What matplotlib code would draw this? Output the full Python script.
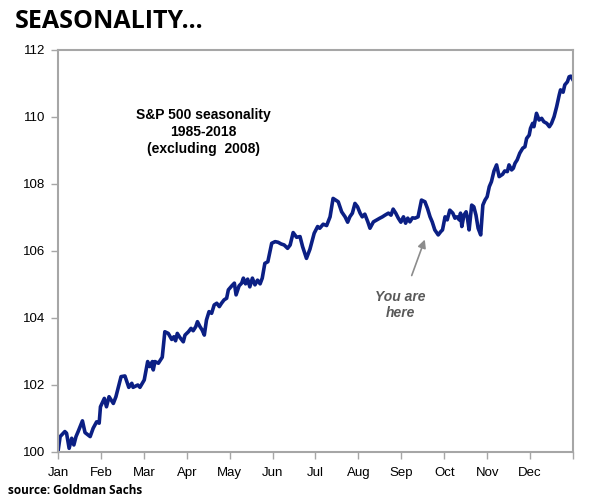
import matplotlib
matplotlib.use("Agg")
from matplotlib import pyplot as plt

# position along the year in months (0 = 1 Jan, 12 = 31 Dec) and index level
months = [0.00, 0.05, 0.16, 0.20, 0.26, 0.32, 0.37, 0.42, 0.47, 0.57, 0.63, 0.75, 0.82, 0.90, 0.96,
          0.99, 1.08, 1.13, 1.19, 1.29, 1.35, 1.47, 1.56, 1.65, 1.72, 1.75, 1.86, 1.91, 2.01, 2.09,
          2.14, 2.20, 2.22, 2.26, 2.34, 2.43, 2.49, 2.57, 2.65, 2.70, 2.74, 2.78, 2.84, 2.92, 2.96,
          3.04, 3.10, 3.15, 3.21, 3.25, 3.31, 3.36, 3.41, 3.46, 3.52, 3.58, 3.64, 3.70, 3.76, 3.81,
          3.87, 3.93, 3.97, 4.05, 4.11, 4.15, 4.22, 4.28, 4.32, 4.37, 4.42, 4.47, 4.53, 4.59, 4.65,
          4.71, 4.76, 4.82, 4.89, 4.98, 5.06, 5.13, 5.20, 5.27, 5.35, 5.41, 5.48, 5.56, 5.64, 5.70,
          5.79, 5.87, 5.97, 6.05, 6.10, 6.18, 6.26, 6.34, 6.41, 6.47, 6.53, 6.61, 6.69, 6.75, 6.80,
          6.86, 6.92, 6.98, 7.04, 7.09, 7.15, 7.22, 7.27, 7.35, 7.43, 7.50, 7.56, 7.62, 7.70, 7.76,
          7.81, 7.87, 7.93, 7.99, 8.05, 8.10, 8.15, 8.20, 8.26, 8.32, 8.39, 8.47, 8.55, 8.61, 8.67,
          8.72, 8.78, 8.86, 8.92, 8.96, 9.02, 9.07, 9.13, 9.20, 9.25, 9.30, 9.35, 9.38, 9.41, 9.46,
          9.51, 9.54, 9.58, 9.64, 9.69, 9.74, 9.79, 9.85, 9.90, 9.95, 10.00, 10.05, 10.10, 10.16, 10.22,
          10.28, 10.36, 10.41, 10.47, 10.51, 10.57, 10.61, 10.65, 10.70, 10.76, 10.83, 10.88, 10.92, 10.98, 11.01,
          11.06, 11.09, 11.15, 11.21, 11.27, 11.32, 11.39, 11.45, 11.50, 11.56, 11.62, 11.68, 11.71, 11.77, 11.81,
          11.87, 11.91, 11.95, 11.99]
level = [100.01, 100.46, 100.61, 100.56, 100.11, 100.41, 100.21, 100.46, 100.61, 100.93, 100.58, 100.46, 100.71, 100.90, 100.86,
         101.35, 101.60, 101.35, 101.65, 101.45, 101.65, 102.25, 102.27, 101.93, 102.05, 101.93, 102.00, 101.93, 102.15, 102.70,
         102.55, 102.70, 102.45, 102.70, 102.65, 102.83, 103.59, 103.54, 103.36, 103.44, 103.32, 103.54, 103.42, 103.29, 103.49,
         103.59, 103.69, 103.62, 103.74, 103.89, 103.74, 103.64, 103.49, 103.94, 104.19, 104.14, 104.39, 104.44, 104.34, 104.44,
         104.54, 104.59, 104.84, 104.96, 105.04, 104.69, 104.96, 105.04, 105.19, 105.02, 105.16, 104.93, 105.19, 104.99, 105.13,
         105.02, 105.19, 105.63, 105.68, 106.23, 106.28, 106.26, 106.21, 106.18, 106.08, 106.18, 106.55, 106.41, 106.43, 106.13,
         105.78, 106.05, 106.53, 106.73, 106.68, 106.80, 106.76, 107.02, 107.57, 107.52, 107.47, 107.17, 107.02, 106.86, 107.02,
         107.13, 107.42, 107.32, 107.13, 107.02, 107.10, 106.87, 106.68, 106.87, 106.93, 106.98, 107.02, 107.07, 107.13, 107.07,
         107.25, 107.13, 106.98, 106.86, 107.02, 106.83, 106.98, 106.87, 106.99, 106.98, 107.02, 107.52, 107.47, 107.27, 107.02,
         106.87, 106.63, 106.48, 106.58, 106.63, 107.02, 106.93, 107.22, 107.13, 106.98, 107.02, 106.93, 107.13, 106.73, 107.07,
         107.17, 106.99, 106.63, 107.37, 107.32, 107.07, 106.68, 106.48, 107.37, 107.52, 107.62, 107.92, 108.07, 108.39, 108.57,
         108.22, 108.29, 108.39, 108.37, 108.57, 108.42, 108.47, 108.62, 108.72, 108.92, 109.07, 109.11, 109.36, 109.46, 109.66,
         109.81, 109.71, 110.11, 109.91, 109.96, 109.86, 109.81, 109.71, 109.81, 110.01, 110.31, 110.66, 110.81, 110.74, 110.96,
         111.05, 111.20, 111.22, 111.13]

month_labels = ['Jan', 'Feb', 'Mar', 'Apr', 'May', 'Jun', 'Jul', 'Aug', 'Sep', 'Oct', 'Nov', 'Dec']
y_ticks = [100, 102, 104, 106, 108, 110, 112]

plt.rcParams['font.family'] = ['Liberation Sans', 'DejaVu Sans']

fig = plt.figure(figsize=(5.94, 5.0), dpi=100)
ax = fig.add_axes([0.0976, 0.096, 0.867, 0.804])

ax.plot(months, level, color='#0b1f84', lw=2.6, solid_joinstyle='round')

ax.set_xlim(0, 12)
ax.set_ylim(100, 112)
ax.set_yticks(y_ticks)
ax.set_xticks(range(13))
ax.set_xticklabels(month_labels + [''])
grey = '#a6a6a6'
for s in ax.spines.values():
    s.set_color(grey)
    s.set_linewidth(1.5)
ax.tick_params(colors=grey, labelcolor='black', labelsize=9.5, length=5, width=1)
ax.tick_params(axis='x', pad=6)
ax.tick_params(axis='y', pad=4)

ax.text(3.38, 109.55, 'S&P 500 seasonality\n1985-2018\n(excluding  2008)',
        ha='center', va='center', fontsize=10, fontweight='bold', linespacing=1.25)

ax.annotate('', xy=(8.57, 106.42), xytext=(8.22, 105.19),
            arrowprops=dict(arrowstyle='-|>', color='#8c8c8c', lw=1.2, mutation_scale=12))
ax.text(7.97, 104.39, 'You are\nhere', ha='center', va='center', fontsize=10,
        fontweight='bold', style='italic', color='#595959', linespacing=1.2)

fig.text(0.025, 0.944, 'SEASONALITY...', fontsize=18, fontweight='bold',
         family=['Open Sans', 'DejaVu Sans'], ha='left', va='baseline')
fig.text(0.013, 0.013, 'source: Goldman Sachs', fontsize=8.5, fontweight='bold',
         family=['Open Sans', 'DejaVu Sans'], ha='left', va='baseline')

fig.savefig('out.png', dpi=100, facecolor='white')
